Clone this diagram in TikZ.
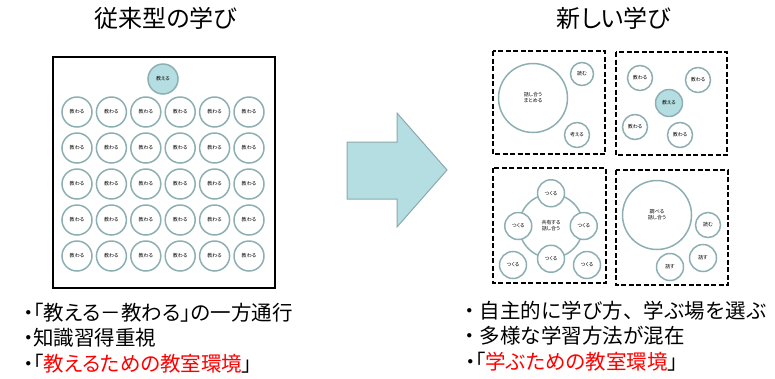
\documentclass[tikz,border=0pt]{standalone}
\usepackage{fontspec}
\setmainfont{Noto Sans CJK JP}[RawFeature=+palt]
\newfontfamily\fullwidth{Noto Sans CJK JP}
\usetikzlibrary{positioning}
\definecolor{ringteal}{HTML}{8DAFB2}
\definecolor{paleteal}{HTML}{B5DEE2}
\definecolor{arrowedge}{HTML}{8CA9AB}
\begin{document}
\begin{tikzpicture}[x=1pt, y=-1pt, node distance = 4pt,
role/.style= {circle, draw=ringteal, line width=1.5pt, fill=white, minimum size=30pt, inner sep=0pt, align=center, font=\fontsize{5}{6}\selectfont},
lead/.style= {role, fill=paleteal},
panel/.style= {draw=black, line width=1.8pt, dash pattern=on 5pt off 2.5pt},
title/.style= {font=\fontsize{24}{28}\selectfont},
point/.style= {anchor=west, inner sep=1pt, text height=15pt, text depth=4pt, font=\fontsize{20.5}{24}\selectfont},
newpoint/.style= {point, font=\fontsize{20.5}{24}\fullwidth} ]
\useasboundingbox (0,0) rectangle (775,378);
% left: the classic classroom
\node (old) [title] at (166,18) {従来型の学び};
\draw[line width=1.6pt] (53,57) rectangle (275,288);
\node (teach) [lead] at (163,79) {教える};
\foreach \r in {1,...,5}
  \foreach \c in {1,...,6}
    \node (g\r\c) [role] at ({77+34.4*(\c-1)}, {112+36*(\r-1)}) {教わる};
\node (a1) [point] at (22,315) {・「教える－教わる」の一方通行};
\node (a2) [point, below=of a1.south west, anchor=north west] {・知識習得重視};
\node (a3) [point, below=of a2.south west, anchor=north west] {・「\textcolor{red}{教えるための教室環境}」};
% arrow
\draw[draw=arrowedge, fill=paleteal, line width=1pt] (347,142) -- (397,142) -- (397,113) -- (447,170) -- (397,227) -- (397,199) -- (347,199) -- cycle;
% right: the new classroom
\node (new) [title] at (614,18) {新しい学び};
\draw[panel] (493,51) rectangle (605,154);
\node (talk) [role, minimum size=69pt] at (533,98) {話し合う\\まとめる};
\node (read) [role, minimum size=23pt] at (582,74) {読む};
\node (think) [role, minimum size=25pt] at (577,135) {考える};
\draw[panel] (616,52) rectangle (727,155);
\node (t2) [lead, minimum size=27pt] at (669,103) {教える};
\node (s1) [role, minimum size=25pt] at (640,78) {教わる};
\node (s2) [role, minimum size=25pt] at (698,80) {教わる};
\node (s3) [role, minimum size=25pt] at (635,127) {教わる};
\node (s4) [role, minimum size=25pt] at (680,135) {教わる};
\draw[panel] (493,168) rectangle (606,283);
\node (share) [role, minimum size=64pt] at (551,226) {共有する\\話し合う};
\node (m1) [role, minimum size=27pt] at (share.north) {つくる};
\node (m2) [role, minimum size=27pt] at (share.west) {つくる};
\node (m3) [role, minimum size=27pt] at (share.east) {つくる};
\node (m4) [role, minimum size=27pt] at (share.south) {つくる};
\node (m5) [role, minimum size=27pt] at (513,265) {つくる};
\node (m6) [role, minimum size=27pt] at (587,265) {つくる};
\draw[panel] (616,170) rectangle (728,285);
\node (probe) [role, minimum size=69pt] at (657,215) {調べる\\話し合う};
\node (read2) [role, minimum size=25pt] at (708,225) {読む};
\node (speak1) [role, minimum size=27pt] at (703,258) {話す};
\node (speak2) [role, minimum size=27pt] at (670,267) {話す};
\node (b1) [newpoint] at (458,313) {・自主的に学び方、学ぶ場を選ぶ};
\node (b2) [newpoint, below=of b1.south west, anchor=north west] {・多様な学習方法が混在};
\node (b3) [point, below=of b2.south west, anchor=north west, xshift=6pt] {・「\textcolor{red}{学ぶための教室環境}」};
\end{tikzpicture}
\end{document}
